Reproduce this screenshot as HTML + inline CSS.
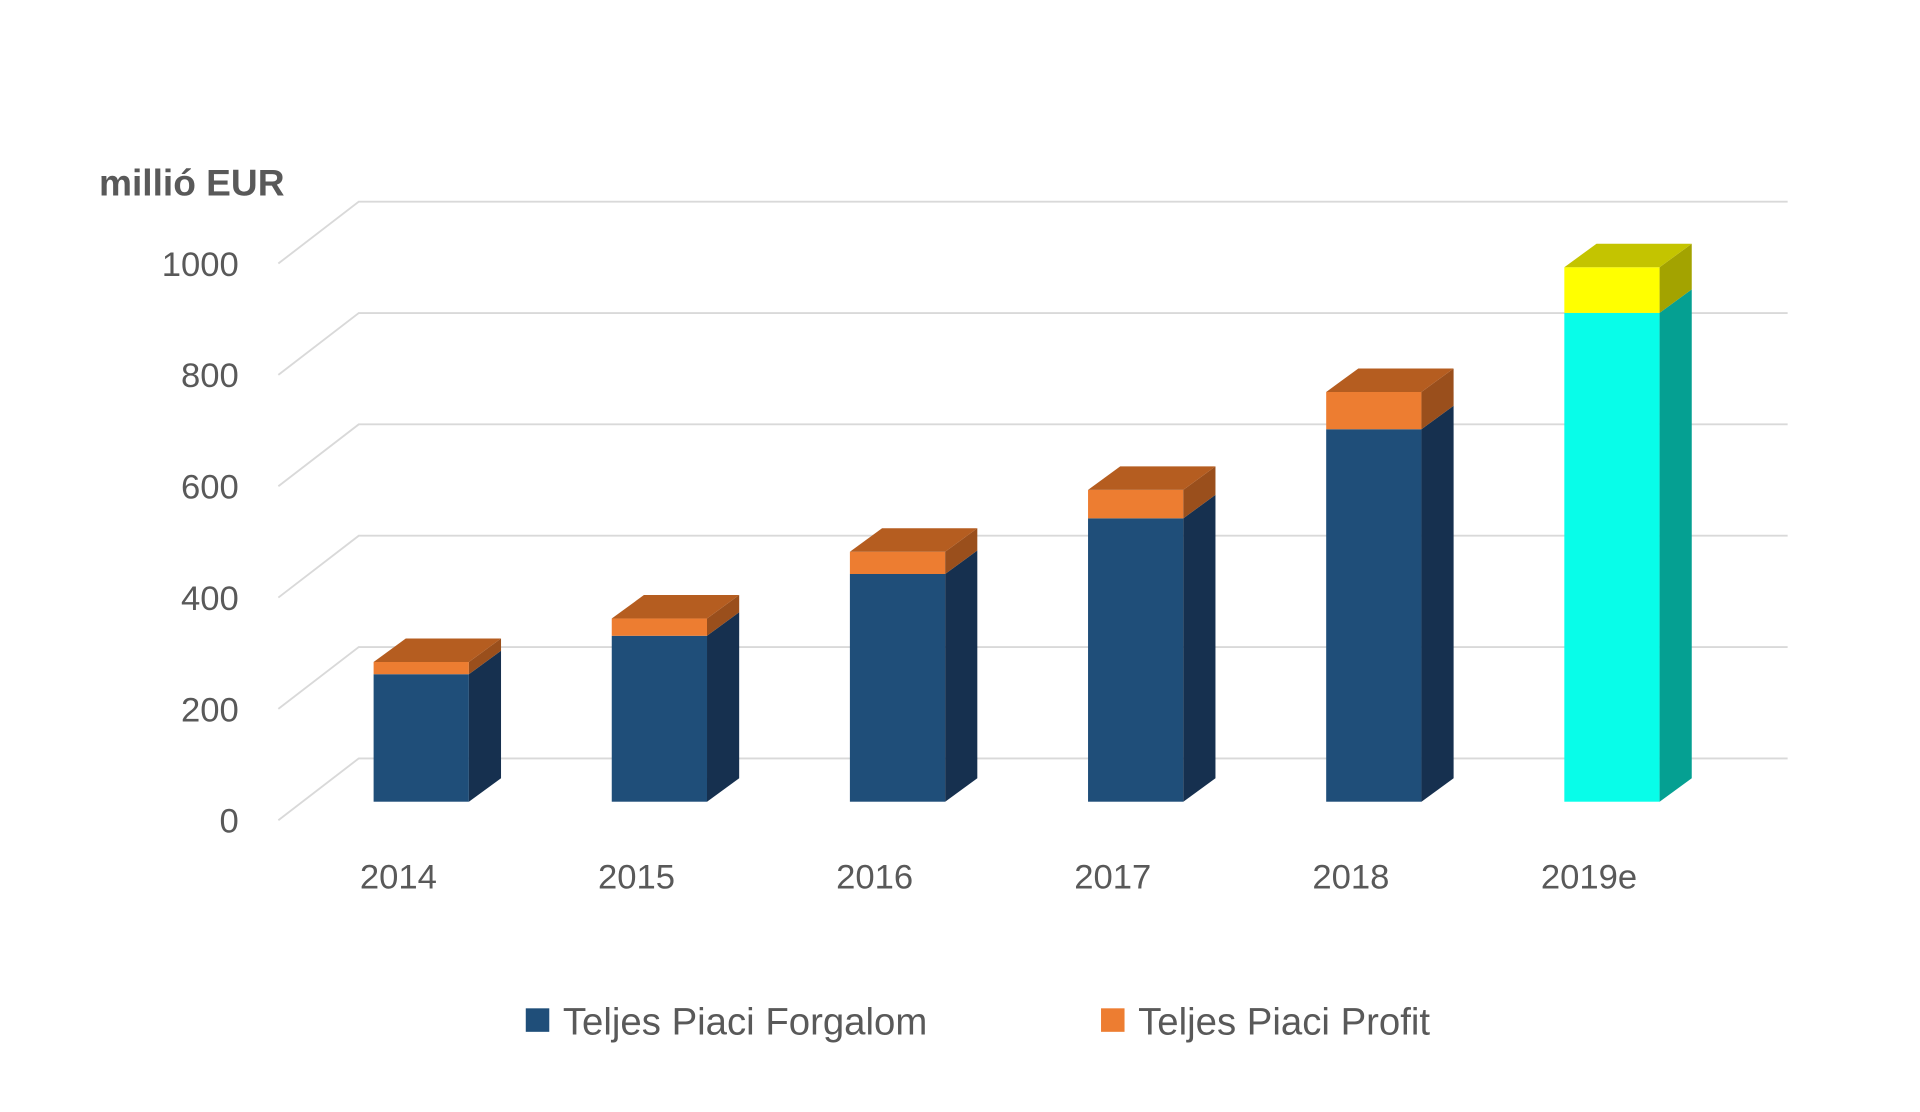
<!DOCTYPE html>
<html><head><meta charset="utf-8"><style>
html,body{margin:0;padding:0;background:#fff;}
svg{display:block;font-family:"Liberation Sans",sans-serif;}
</style></head><body>
<svg id="chart" width="1920" height="1112" viewBox="0 0 1552 898.8" preserveAspectRatio="none" xmlns="http://www.w3.org/2000/svg">
<text x="80" y="158" font-size="30" font-weight="bold" fill="#595959">millió EUR</text>
<g id="grid"></g><g id="bars"></g><g id="labels"></g>
<g>
<rect x="425" y="815" width="19" height="19" fill="#1f4e79"/>
<text x="455" y="836" font-size="31" fill="#595959">Teljes Piaci Forgalom</text>
<rect x="890" y="815" width="19" height="19" fill="#ed7d31"/>
<text x="920" y="836" font-size="31" fill="#595959">Teljes Piaci Profit</text>
</g>
</svg>
<script>
const categories = ["2014","2015","2016","2017","2018","2019e"];
const forgalom = [229, 298, 409, 509, 669, 878];
const profit = [22, 31, 40, 51, 67, 82];
const yTicks = [0, 200, 400, 600, 800, 1000];

const NS = "http://www.w3.org/2000/svg";
const frontZero = 663, backZero = 613, barZero = 648, pxPer = 0.45;
const yFront = v => frontZero - v * pxPer;
const yBack = v => backZero - v * pxPer;
const yBar = v => barZero - v * pxPer;
const x0 = 302, step = 192.5, bw = 77, dx = 26, dy = 19;
const xBar = i => x0 + i * step;

function mk(tag, attrs, parent) {
  const el = document.createElementNS(NS, tag);
  for (const k in attrs) el.setAttribute(k, attrs[k]);
  parent.appendChild(el);
  return el;
}
const grid = document.getElementById('grid');
const bars = document.getElementById('bars');
const labels = document.getElementById('labels');

yTicks.forEach(v => {
  const p = mk('polyline', {points: `225,${yFront(v)} 290,${yBack(v)} 1445,${yBack(v)}`, fill: 'none', stroke: '#d9d9d9', 'stroke-width': 1.5}, grid);
  
  
  const t = mk('text', {x: 193, y: yFront(v) + 10, 'text-anchor': 'end', 'font-size': 28, fill: '#595959'}, labels);
  t.textContent = v;
  
  
});

function box(x, yTop, yBot, front, top, side, name, drawTop) {
  const g = mk('g', {}, bars);
  
  
  mk('rect', {x: x, y: yTop, width: bw, height: yBot - yTop, fill: front}, g);
  mk('polygon', {points: `${x+bw},${yTop} ${x+bw+dx},${yTop-dy} ${x+bw+dx},${yBot-dy} ${x+bw},${yBot}`, fill: side}, g);
  if (drawTop) mk('polygon', {points: `${x},${yTop} ${x+dx},${yTop-dy} ${x+bw+dx},${yTop-dy} ${x+bw},${yTop}`, fill: top}, g);
}

categories.forEach((c, i) => {
  const x = xBar(i);
  const est = c.endsWith('e');
  const b = forgalom[i], p = profit[i];
  box(x, yBar(b), yBar(0), est ? '#08fde9' : '#1f4e79', '', est ? '#05a092' : '#16304f', 'bar-forgalom-' + c, false);
  box(x, yBar(b + p), yBar(b), est ? '#ffff00' : '#ed7d31', est ? '#c4c400' : '#b55d20', est ? '#a3a300' : '#9a4f1c', 'bar-profit-' + c, true);
  const t = mk('text', {x: x + 20, y: 718, 'text-anchor': 'middle', 'font-size': 28, fill: '#595959'}, labels);
  t.textContent = c;
  
  
});
</script>
</body></html>
